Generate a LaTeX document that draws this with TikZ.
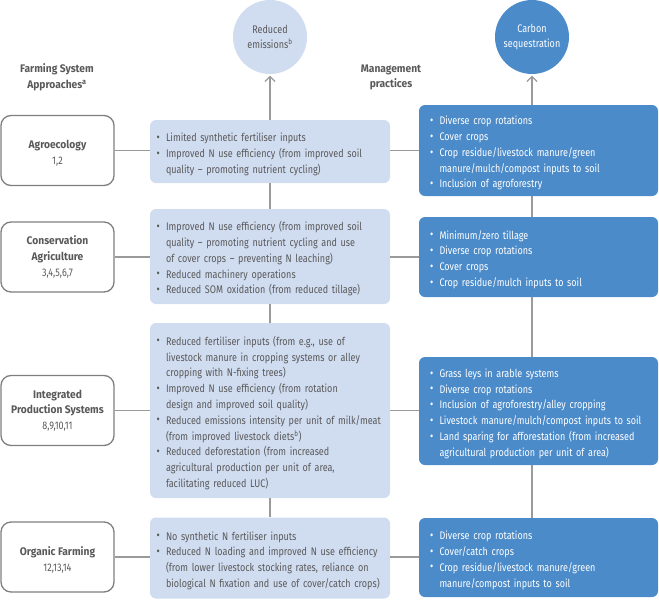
\documentclass[tikz,border=0pt]{standalone}
\usepackage{fontspec}
\setmainfont{Fira Sans}[FakeStretch=0.82, BoldFeatures={FakeStretch=0.93}]
\usetikzlibrary{arrows.meta,calc}
\definecolor{lightbox}{HTML}{D0DCF0}
\definecolor{darkbox}{HTML}{4B8BCA}
\definecolor{txtgray}{HTML}{595959}
\definecolor{linegray}{HTML}{9A9A9A}
\definecolor{bordergray}{HTML}{7F7F7F}
\newcommand{\mybul}{\makebox[9.5pt][l]{\raisebox{0.05ex}{\scalebox{1.1}{\textbullet}}}}
\newcommand{\nl}{\hfil\break}
\newcommand{\bit}[1]{\leftskip=9.5pt\noindent\hskip-9.5pt\mybul#1\par}
\newcommand{\fbit}[1]{\leftskip=9.5pt\noindent\hskip-9.5pt\rule{0pt}{14pt}\mybul#1\par}
\tikzset{
  basefont/.style={font=\fontsize{11}{15.6}\selectfont},
  boxfont/.style={font=\fontsize{11}{15.8}\selectfont},
  sysbox/.style={basefont, draw=bordergray, line width=1.3pt, fill=white, rounded corners=10pt,
    minimum width=113pt, minimum height=70pt, align=center, text=txtgray, inner sep=2pt},
  systext/.style={basefont, align=center, text=txtgray, inner sep=0pt},
  lightbox/.style={boxfont, fill=lightbox, rounded corners=6pt, minimum width=240pt,
    text width=227pt, inner xsep=6.5pt, inner ysep=2pt, align=left, text=txtgray},
  darkbox/.style={boxfont, fill=darkbox, rounded corners=6pt, minimum width=239pt,
    text width=217pt, inner xsep=11pt, inner ysep=2pt, align=left, text=white},
  conn/.style={draw=linegray, line width=1.2pt},
  arr/.style={conn, -{Straight Barb[length=5pt,width=10pt,line width=1.2pt]}},
  header/.style={font=\fontsize{11}{15.6}\selectfont\bfseries, text=txtgray, align=center},
  goal/.style={circle, minimum size=74pt, inner sep=0pt, align=center, basefont}
}
\begin{document}
\begin{tikzpicture}[x=1pt,y=1pt]
\useasboundingbox (0,0) rectangle (659,-600);

% goals
\node[goal, fill=lightbox, text=txtgray] (em) at (270,-37) {Reduced\\emissions\textsuperscript{b}};
\node[goal, fill=darkbox, text=white] (cs) at (532,-37) {Carbon\\sequestration};

% headers
\node[header] (h1) at (57,-77.5) {Farming System\\Approaches\textsuperscript{a}};
\node[header] (h2) at (391,-77.5) {Management\\practices};

% farming systems
\node[sysbox, label={[systext, yshift=-3pt]center:{\textbf{Agroecology}\\1,2}}] (agro) at (57.5,-150.5) {};
\node[sysbox] (cons) at (57.5,-257) {\textbf{Conservation}\\\textbf{Agriculture}\\3,4,5,6,7};
\node[sysbox] (integ) at (57.5,-410.5) {\textbf{Integrated}\\\textbf{Production Systems}\\8,9,10,11};
\node[sysbox, label={[systext, yshift=-3pt]center:{\textbf{Organic Farming}\\12,13,14}}] (org) at (57.5,-557) {};

% emissions boxes
\node[lightbox, minimum height=63pt] (L1) at (270,-151.5) {%
\fbit{Limited synthetic fertiliser inputs}
\bit{Improved N use efficiency (from improved soil\nl quality -- promoting nutrient cycling)}};
\node[lightbox, minimum height=95pt] (L2) at (270,-256.5) {%
\fbit{Improved N use efficiency (from improved soil\nl quality -- promoting nutrient cycling and use\nl of cover crops -- preventing N leaching)}
\bit{Reduced machinery operations}
\bit{Reduced SOM oxidation (from reduced tillage)}};
\node[lightbox, minimum height=175pt] (L3) at (270,-410.5) {%
\fbit{Reduced fertiliser inputs (from e.g., use of\nl livestock manure in cropping systems or alley\nl cropping with N-fixing trees)}
\bit{Improved N use efficiency (from rotation\nl design and improved soil quality)}
\bit{Reduced emissions intensity per unit of milk/meat\nl (from improved livestock diets\textsuperscript{b})}
\bit{Reduced deforestation (from increased\nl agricultural production per unit of area,\nl facilitating reduced LUC)}};
\node[lightbox, minimum height=81pt] (L4) at (270,-558) {%
\fbit{No synthetic N fertiliser inputs}
\bit{Reduced N loading and improved N use efficiency\nl (from lower livestock stocking rates, reliance on\nl biological N fixation and use of cover/catch crops)}};

% sequestration boxes
\node[darkbox, minimum height=91pt] (D1) at (538.5,-150.5) {%
\fbit{Diverse crop rotations}
\bit{Cover crops}
\bit{Crop residue/livestock manure/green\nl manure/mulch/compost inputs to soil}
\bit{Inclusion of agroforestry}};
\node[darkbox, minimum height=80pt] (D2) at (538.5,-257) {%
\fbit{Minimum/zero tillage}
\bit{Diverse crop rotations}
\bit{Cover crops}
\bit{Crop residue/mulch inputs to soil}};
\node[darkbox, minimum height=108pt] (D3) at (538.5,-411) {%
\fbit{Grass leys in arable systems}
\bit{Diverse crop rotations}
\bit{Inclusion of agroforestry/alley cropping}
\bit{Livestock manure/mulch/compost inputs to soil}
\bit{Land sparing for afforestation (from increased\nl agricultural production per unit of area)}};
\node[darkbox, minimum height=79pt] (D4) at (538.5,-557.5) {%
\fbit{Diverse crop rotations}
\bit{Cover/catch crops}
\bit{Crop residue/livestock manure/green\nl manure/compost inputs to soil}};

% vertical connectors
\draw[arr] (L1.north) -- ([yshift=-1.5pt]em.south);
\draw[conn] (L1.south) -- (L2.north);
\draw[conn] (L2.south) -- (L3.north);
\draw[conn] (L3.south) -- (L4.north);
\draw[arr] (cs.south |- D1.north) -- ([yshift=-1.5pt]cs.south);
\draw[conn] (cs.south |- D1.south) -- (cs.south |- D2.north);
\draw[conn] (cs.south |- D2.south) -- (cs.south |- D3.north);
\draw[conn] (cs.south |- D3.south) -- (cs.south |- D4.north);
% horizontal connectors
\draw[conn] (agro.east) -- (agro.east -| L1.west);
\draw[conn] (agro.east -| L1.east) -- (agro.east -| D1.west);
\draw[conn] (cons.east) -- (cons.east -| L2.west);
\draw[conn] (cons.east -| L2.east) -- (cons.east -| D2.west);
\draw[conn] (integ.east) -- (integ.east -| L3.west);
\draw[conn] (integ.east -| L3.east) -- (integ.east -| D3.west);
\draw[conn] (org.east) -- (org.east -| L4.west);
\draw[conn] (org.east -| L4.east) -- (org.east -| D4.west);
\end{tikzpicture}
\end{document}
